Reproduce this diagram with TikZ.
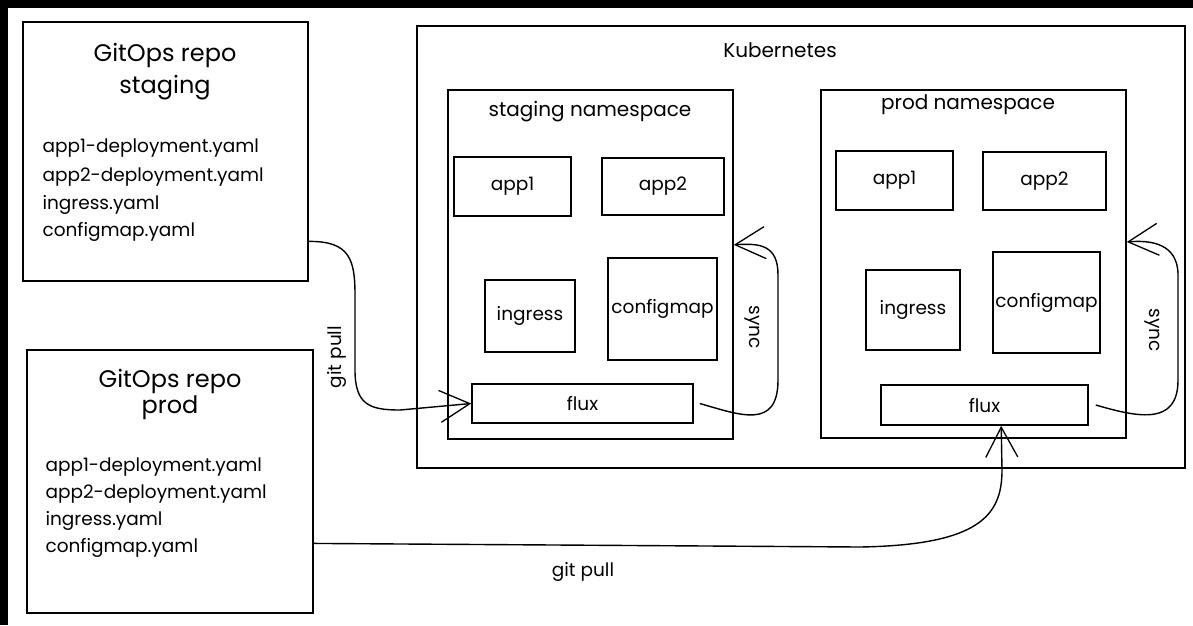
\documentclass[tikz,border=0pt]{standalone}
\usepackage{fontspec}
\setmainfont{Poppins}
\usetikzlibrary{arrows.meta,calc}
\tikzset{
  box/.style={draw, line width=1.6pt, rectangle, inner sep=0pt, anchor=center},
  lbl/.style={font=\fontsize{18.5}{22}\selectfont},
  conn/.style={line width=1.4pt, -{Straight Barb[length=30pt,width=32pt,line width=1.3pt]}},
  title/.style={font=\fontsize{24}{28}\selectfont},
  file/.style={font=\fontsize{18.5}{27}\selectfont, anchor=west},
  head/.style={font=\fontsize{20}{22}\selectfont},
}
\begin{document}
\begin{tikzpicture}[x=1pt,y=-1pt]
\useasboundingbox (0,0) rectangle (1193,625);
\fill[white] (0,0) rectangle (1193,625);
\fill[black] (0,0) rectangle (1193,8);
\fill[black] (0,0) rectangle (8,625);

% repos
\node[box, minimum width=285pt, minimum height=259pt] (repoS) at (165.5,151.5) {};
\node[title] (repoSt1) at (165,55) {GitOps repo};
\node[title] (repoSt2) at (165,88) {staging};
\node[file] (repoSf1) at (39,148) {app1-deployment.yaml};
\node[file] (repoSf2) at (39,177) {app2-deployment.yaml};
\node[file] (repoSf3) at (39,205) {ingress.yaml};
\node[file] (repoSf4) at (39,232) {configmap.yaml};

\node[box, minimum width=286pt, minimum height=263pt] (repoP) at (170,481.5) {};
\node[title] (repoPt1) at (170,381) {GitOps repo};
\node[title] (repoPt2) at (170,408) {prod};
\node[file] (repoPf1) at (42,467) {app1-deployment.yaml};
\node[file] (repoPf2) at (42,494) {app2-deployment.yaml};
\node[file] (repoPf3) at (42,521) {ingress.yaml};
\node[file] (repoPf4) at (42,548) {configmap.yaml};

% kubernetes
\node[box, minimum width=768pt, minimum height=442pt] (k8s) at (801,247) {};
\node[head] (k8sl) at (780,50) {Kubernetes};

% staging namespace
\node[box, minimum width=285pt, minimum height=349pt] (nsS) at (590.5,264.5) {};
\node[head] (nsSl) at (590,112) {staging namespace};
\node[box, lbl, minimum width=117pt, minimum height=59pt] (app1S) at (512.5,186.5) {app1};
\node[box, lbl, minimum width=122pt, minimum height=57pt] (app2S) at (663,186.5) {app2};
\node[box, lbl, minimum width=90pt, minimum height=72pt] (ingS) at (530,316) {ingress};
\node[box, lbl, minimum width=109pt, minimum height=102pt] (cfgS) at (662.5,309) {configmap};
\node[box, lbl, minimum width=221pt, minimum height=39pt] (fluxS) at (582.5,403.5) {flux};

% prod namespace
\node[box, minimum width=305pt, minimum height=348pt] (nsP) at (973.5,264) {};
\node[head] (nsPl) at (968,105) {prod namespace};
\node[box, lbl, minimum width=117pt, minimum height=59pt] (app1P) at (894.5,180.5) {app1};
\node[box, lbl, minimum width=123pt, minimum height=58pt] (app2P) at (1044.5,181) {app2};
\node[box, lbl, minimum width=94pt, minimum height=80pt] (ingP) at (913,310) {ingress};
\node[box, lbl, minimum width=107pt, minimum height=101pt] (cfgP) at (1046.5,302.5) {configmap};
\node[box, lbl, minimum width=207pt, minimum height=40pt] (fluxP) at (984.5,405) {flux};

% connectors
\coordinate (gpS) at ($(repoS.north east)!0.845!(repoS.south east)$);
\draw[conn] (gpS) .. controls (350,241) and (355,260) .. (355,295) -- (355,370)
  .. controls (355,405) and (370,410) .. (400,410) -- (fluxS.west);
\node[lbl, rotate=90] (gpSl) at (337,357) {git pull};

\coordinate (syS) at ($(nsS.north east)!0.444!(nsS.south east)$);
\draw[conn] ([xshift=6pt]fluxS.east) .. controls (740,415) and (778,430) .. (778,380) -- (778,275)
  .. controls (778,245) and (760,243) .. (syS);
\node[lbl, rotate=-90] (sySl) at (752,327) {sync};

\coordinate (syP) at ($(nsP.north east)!0.437!(nsP.south east)$);
\draw[conn] ([xshift=7pt]fluxP.east) .. controls (1140,418) and (1178,425) .. (1178,380) -- (1178,275)
  .. controls (1178,243) and (1150,240) .. (syP);
\node[lbl, rotate=-90] (syPl) at (1152,330) {sync};

\coordinate (gpP) at ($(repoP.north east)!0.734!(repoP.south east)$);
\coordinate (gpPt) at ($(fluxP.south west)!0.58!(fluxP.south east)$);
\draw[conn] (gpP) -- (860,547) .. controls (980,545) and (1002,515) .. (1002,470) -- (gpPt);
\node[lbl] (gpPl) at (583,572) {git pull};
\end{tikzpicture}
\end{document}
